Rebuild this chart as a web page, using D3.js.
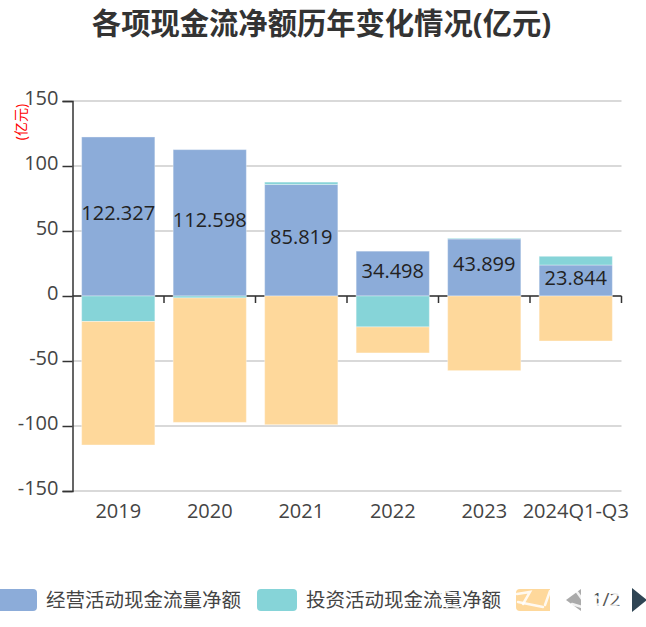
<!DOCTYPE html>
<html>
<head>
<meta charset="utf-8">
<script src="https://cdn.jsdelivr.net/npm/d3@7"></script>
<style>
    html, body { margin: 0; padding: 0; background: #fff; }
    svg { display: block; }
    text { font-family: "Open Sans", "Noto Sans CJK SC", sans-serif; }
</style>
</head>
<body>
<svg id="chart" width="646" height="627"></svg>
<script>
// data
const years = ["2019", "2020", "2021", "2022", "2023", "2024Q1-Q3"];
const operating = [122.327, 112.598, 85.819, 34.498, 43.899, 23.844];
const investing = [-19.6, -1.5, 1.8, -23.8, 0.5, 6.7];
const financing = [-95, -95.7, -99, -20, -57.4, -34.6];
const seriesNames = ["经营活动现金流量净额", "投资活动现金流量净额", "筹资活动现金流量净额"];
const colors = ["#8cacd9", "#86d4d8", "#fed89b"];
const yTicks = [150, 100, 50, 0, -50, -100, -150];

const svg = d3.select("#chart");
const plotL = 72.5, plotR = 621.5, plotT = 101, plotB = 491;
const textCol = "#444";

let x = d3.scaleBand().domain(years).range([plotL, plotR]).paddingInner(0.2).paddingOuter(0.1);
let y = d3.scaleLinear().domain([-150, 150]).range([plotB, plotT]);

// title
svg.append("text").attr("x", 321.5).attr("y", 34)
    .attr("text-anchor", "middle")
    .attr("font-size", 29.3).attr("font-weight", "bold").attr("fill", "#333")
    .text("各项现金流净额历年变化情况(亿元)");

// unit label
svg.append("text")
    .attr("transform", "translate(26,122) rotate(-90)")
    .attr("text-anchor", "middle")
    .attr("font-size", 14).attr("fill", "#f00")
    .text("(亿元)");

// grid
svg.append("g").selectAll("line").data(yTicks).join("line")
    .attr("x1", plotL).attr("x2", plotR)
    .attr("y1", d => y(d)).attr("y2", d => y(d))
    .attr("stroke", "#ccc").attr("stroke-width", 1.5);

// stacked bars, negatives stack downward from zero
let rows = years.map((d, i) => ({ year: d, op: operating[i], inv: investing[i], fin: financing[i] }));
let stacked = d3.stack().keys(["op", "inv", "fin"]).offset(d3.stackOffsetDiverging)(rows);

// y axis
let yAxis = svg.append("g").attr("transform", "translate(" + plotL + ",0)")
    .call(d3.axisLeft(y).tickValues(yTicks).tickSize(10).tickPadding(4).tickFormat(d => d));
yAxis.selectAll("text").attr("font-size", 20).attr("fill", textCol).attr("dy", "0.18em");
yAxis.selectAll("line, path").attr("stroke", "#333").attr("stroke-width", 1.5);

// x axis on the zero line, ticks at the band edges
let xAxis = svg.append("g").attr("transform", "translate(0," + y(0) + ")");
xAxis.append("line").attr("x1", plotL).attr("x2", plotR)
    .attr("stroke", "#333").attr("stroke-width", 1.5);
let step = x.step();
xAxis.selectAll(".tk").data(years).join("line").attr("class", "tk")
    .attr("x1", d => x(d) + x.bandwidth() + (step - x.bandwidth()) / 2)
    .attr("x2", d => x(d) + x.bandwidth() + (step - x.bandwidth()) / 2)
    .attr("y1", 0).attr("y2", 7)
    .attr("stroke", "#333").attr("stroke-width", 1.5);

// category labels sit at the chart bottom
svg.append("g").selectAll("text").data(years).join("text")
    .attr("x", d => x(d) + x.bandwidth() / 2)
    .attr("y", 517.5)
    .attr("text-anchor", "middle")
    .attr("font-size", 20).attr("fill", textCol)
    .text(d => d);

svg.append("g").selectAll("g").data(stacked).join("g")
    .attr("fill", (d, i) => colors[i])
    .selectAll("rect").data(d => d).join("rect")
    .attr("x", d => x(d.data.year))
    .attr("width", x.bandwidth())
    .attr("y", d => y(Math.max(d[0], d[1])))
    .attr("height", d => Math.abs(y(d[0]) - y(d[1])))
    .attr("stroke", "#fff").attr("stroke-opacity", 0.35).attr("stroke-width", 1);

// value labels for the first series only
svg.append("g").selectAll("text").data(operating).join("text")
    .attr("x", (d, i) => x(years[i]) + x.bandwidth() / 2)
    .attr("y", d => y(d / 2) + 4)
    .attr("text-anchor", "middle")
    .attr("font-size", 20).attr("fill", "#222")
    .text(d => d3.format(".3f")(d));

// legend, third item is clipped by the pager
let legend = svg.append("g");
let legendX = [-3, 257, 516];
legend.append("clipPath").attr("id", "legClip")
    .append("rect").attr("x", 0).attr("y", 580).attr("width", 550).attr("height", 40);
let items = legend.append("g").attr("clip-path", "url(#legClip)")
    .selectAll("g").data(seriesNames).join("g")
    .attr("transform", (d, i) => "translate(" + legendX[i] + ",589)");
items.append("rect").attr("width", 40).attr("height", 22).attr("rx", 4)
    .attr("fill", (d, i) => colors[i]);
items.filter((d, i) => i < 2).append("text")
    .attr("x", 49).attr("y", 18)
    .attr("font-size", 19.5).attr("fill", textCol)
    .text(d => d);

// pager
legend.append("path").attr("d", "M581,589L566,600L581,611Z").attr("fill", "#aaa");
legend.append("text").attr("x", 606).attr("y", 606).attr("text-anchor", "middle")
    .attr("font-size", 19).attr("fill", "#555").text("1/2");
legend.append("path").attr("d", "M632,588L647,600L632,612Z").attr("fill", "#2f4554");

// white smears the source image has over the legend end
const smears = [
    "M517,594L530,592L523,604", "M518,602L543,607", "M550,591L545,605",
    "M572,604L582,607", "M577,592L582,599",
    "M591,595L602,599", "M592,606L600,604", "M610,592L622,596", "M611,606L622,603",
    "M440,593L447,607", "M447,592L456,595", "M443,604L458,607"
];
legend.append("g").selectAll("path").data(smears).join("path")
    .attr("d", d => d)
    .attr("fill", "none").attr("stroke", "#fff")
    .attr("stroke-width", 2.5).attr("stroke-linecap", "round").attr("stroke-opacity", 0.85);
</script>
</body>
</html>
